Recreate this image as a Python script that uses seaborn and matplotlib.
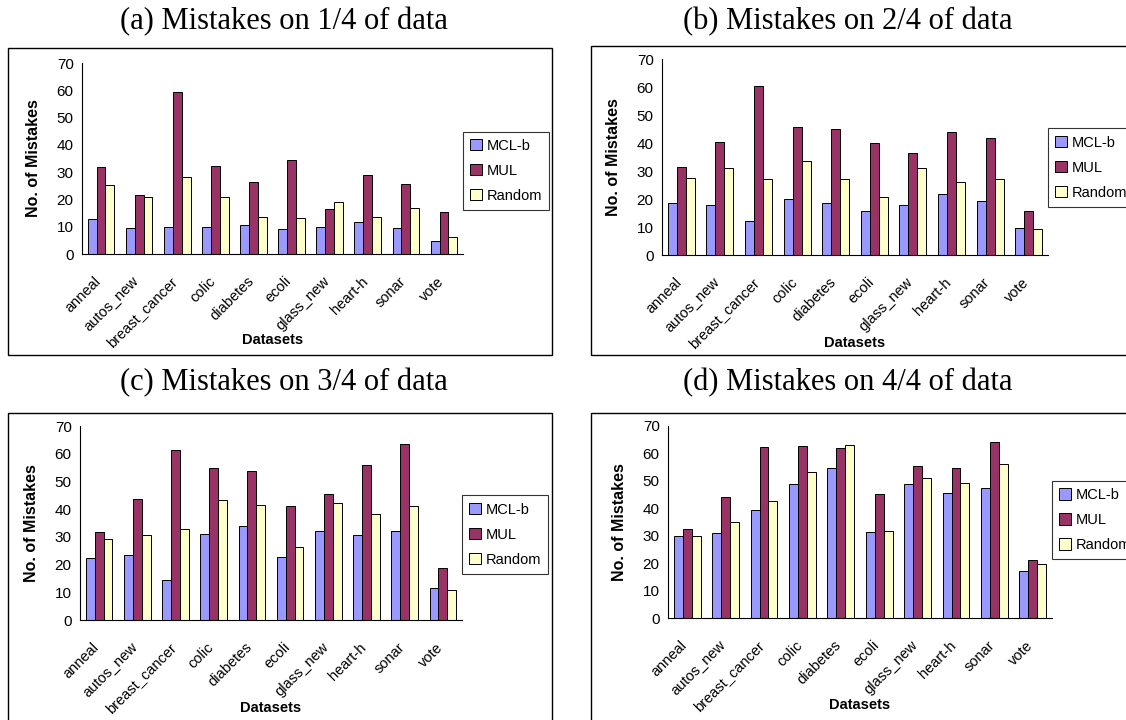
import matplotlib
matplotlib.use('Agg')
import matplotlib.pyplot as plt
import matplotlib.transforms as mtransforms
from matplotlib.patches import Rectangle
import numpy as np
import pandas as pd
import seaborn as sns

datasets = ['anneal', 'autos_new', 'breast_cancer', 'colic', 'diabetes',
            'ecoli', 'glass_new', 'heart-h', 'sonar', 'vote']
methods = ['MCL-b', 'MUL', 'Random']

# (a) mistakes on 1/4 of data
mcl_a = [12.7, 9.5, 10.0, 10.0, 10.5, 9.2, 10.0, 11.8, 9.6, 4.6]
mul_a = [31.8, 21.8, 59.5, 32.3, 26.4, 34.5, 16.4, 29.0, 25.5, 15.5]
rnd_a = [25.4, 21.0, 28.2, 21.0, 13.7, 13.3, 19.2, 13.7, 16.8, 6.4]

# (b) mistakes on 2/4 of data
mcl_b = [18.4, 17.9, 12.1, 20.1, 18.7, 15.6, 17.8, 21.9, 19.2, 9.8]
mul_b = [31.6, 40.5, 60.5, 45.8, 44.9, 40.1, 36.5, 44.0, 41.9, 15.6]
rnd_b = [27.6, 31.2, 27.2, 33.4, 27.2, 20.6, 31.2, 25.9, 27.2, 9.4]

# (c) mistakes on 3/4 of data
mcl_c = [22.2, 23.5, 14.5, 31.1, 33.9, 22.7, 32.1, 30.7, 32.1, 11.4]
mul_c = [31.6, 43.6, 61.3, 55.0, 53.6, 41.0, 45.5, 55.9, 63.6, 18.6]
rnd_c = [29.4, 30.7, 33.0, 43.3, 41.5, 26.2, 42.3, 38.3, 41.0, 10.9]

# (d) mistakes on 4/4 of data
mcl_d = [30.0, 30.9, 39.2, 48.8, 54.8, 31.4, 48.8, 45.6, 47.5, 17.1]
mul_d = [32.3, 44.2, 62.2, 62.7, 62.1, 45.1, 55.3, 54.8, 64.1, 21.3]
rnd_d = [30.0, 35.0, 42.8, 53.4, 63.1, 31.8, 51.0, 49.3, 56.2, 19.8]

titles = ['(a) Mistakes on 1/4 of data', '(b) Mistakes on 2/4 of data',
          '(c) Mistakes on 3/4 of data', '(d) Mistakes on 4/4 of data']

palette = {'MCL-b': '#9999FF', 'MUL': '#993366', 'Random': '#FFFFCC'}

sns.set_style('white')
plt.rcParams['font.family'] = ['Liberation Sans', 'DejaVu Sans']
plt.rcParams.update({'text.color': 'black', 'axes.labelcolor': 'black',
                     'xtick.color': 'black', 'ytick.color': 'black'})

W, H = 1126, 720
fig = plt.figure(figsize=(W / 100, H / 100), dpi=100)


def px_rect(x0, y0, x1, y1):
    # pixel box (top-left origin) -> figure fraction [left, bottom, width, height]
    return [x0 / W, 1 - y1 / H, (x1 - x0) / W, (y1 - y0) / H]


panels = [
    (mcl_a, mul_a, rnd_a, px_rect(82, 63, 463, 254), (8, 48, 552, 355), (284, 22), 0.435),
    (mcl_b, mul_b, rnd_b, px_rect(662, 59, 1048, 255), (591, 46, 1135, 355), (848, 22), 0.446),
    (mcl_c, mul_c, rnd_c, px_rect(80, 426, 462, 620), (8, 413, 552, 730), (284, 383), 0.44),
    (mcl_d, mul_d, rnd_d, px_rect(668, 426, 1052, 618), (591, 413, 1135, 730), (848, 383), 0.51),
]

label_shift = mtransforms.ScaledTranslation(-0.07, -0.09, fig.dpi_scale_trans)

for (mcl, mul, rnd, rect, box, tpos, leg_y), title in zip(panels, titles):
    df = pd.DataFrame({
        'Datasets': datasets * 3,
        'method': [m for m in methods for _ in datasets],
        'value': mcl + mul + rnd,
    })
    ax = fig.add_axes(rect)
    sns.barplot(data=df, x='Datasets', y='value', hue='method', hue_order=methods,
                palette=palette, saturation=1, edgecolor='black', linewidth=0.7,
                width=0.7, ax=ax)

    ax.set_ylim(0, 70)
    ax.set_xlim(-0.5, len(datasets) - 0.5)
    ax.set_yticks(np.arange(0, 71, 10))
    ax.tick_params(axis='y', direction='out', length=4, width=0.8, labelsize=11, pad=2)
    ax.set_xticks(np.arange(len(datasets)))
    ax.set_xticklabels(datasets, rotation=45, ha='right', rotation_mode='anchor', fontsize=10.5)
    ax.tick_params(axis='x', which='major', length=0, pad=8)
    ax.set_xticks(np.arange(-0.5, len(datasets)), minor=True)
    ax.tick_params(axis='x', which='minor', direction='out', length=4, width=0.8)
    for lab in ax.get_xticklabels():
        lab.set_transform(lab.get_transform() + label_shift)

    for s in ['top', 'right']:
        ax.spines[s].set_visible(False)
    for s in ['left', 'bottom']:
        ax.spines[s].set_color('black')
        ax.spines[s].set_linewidth(0.8)

    ax.set_ylabel('No. of Mistakes', fontsize=11.5, fontweight='bold', labelpad=11)
    ax.set_xlabel('Datasets', fontsize=10.5, fontweight='bold')
    ax.xaxis.set_label_coords(0.5, -0.415)

    handles, labels = ax.get_legend_handles_labels()
    leg = ax.legend(handles, labels, loc='center left', bbox_to_anchor=(1.0, leg_y),
                    frameon=True, fancybox=False, edgecolor='black', fontsize=10.5,
                    handlelength=0.8, handleheight=0.8, handletextpad=0.3,
                    borderpad=0.5, labelspacing=0.75, borderaxespad=0)
    leg.get_frame().set_linewidth(0.8)

    x0, y0, x1, y1 = box
    fig.add_artist(Rectangle((x0 / W, 1 - y1 / H), (x1 - x0) / W, (y1 - y0) / H,
                             transform=fig.transFigure, fill=False,
                             edgecolor='black', linewidth=1.0))
    fig.text(tpos[0] / W, 1 - tpos[1] / H, title, ha='center', va='center',
             fontsize=22, family=['Liberation Serif', 'DejaVu Serif'])

fig.savefig('out.png', dpi=100)
